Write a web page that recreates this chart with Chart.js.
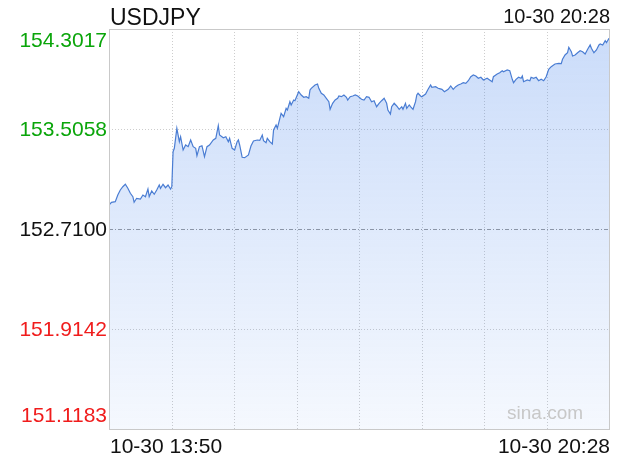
<!DOCTYPE html>
<html><head><meta charset="utf-8">
<script src="https://cdn.jsdelivr.net/npm/chart.js@4.4.1/dist/chart.umd.min.js"></script>
<style>html,body{margin:0;padding:0;background:#fff;}canvas{display:block;}</style>
</head><body>
<canvas id="c" width="620" height="460"></canvas>
<script>
const symbol = 'USDJPY';
const stampLabel = '10-30 20:28';
const xAxisLabels = ['10-30 13:50', '10-30 20:28'];
const sessionMinutes = 398; // 13:50 -> 20:28
const prevClose = 152.7100;
const yTickValues = [154.3017, 153.5058, 152.7100, 151.9142, 151.1183];
const watermark = 'sina.com';

// minutes after 13:50
const minutes = [
  0,2,5,7,9,11,13,15,17,19,
  20,22,25,27,29,31,32,34,36,38,
  40,41,43,45,47,49,50,51,52,53,
  54,56,57,59,61,63,65,67,69,70,
  72,74,76,78,80,83,85,87,88,91,
  93,95,96,98,100,102,103,104,106,108,
  111,113,115,118,120,122,123,125,126,128,
  130,131,133,134,136,137,139,141,142,144,
  145,147,148,151,153,155,157,159,160,161,
  164,166,167,169,171,173,175,176,178,180,
  182,183,185,187,189,190,192,194,196,198,
  201,203,205,207,209,211,213,215,217,219,
  221,222,224,225,227,229,231,233,234,236,
  237,239,240,242,244,245,246,248,249,252,
  254,256,257,260,262,263,265,267,270,272,
  274,276,278,280,282,284,286,288,290,292,
  294,296,298,301,303,305,306,309,311,313,
  314,317,319,321,322,324,326,328,329,330,
  333,335,336,338,340,342,344,346,348,350,
  352,355,358,360,361,363,365,366,368,369,
  371,373,375,377,379,381,383,384,386,388,
  390,391,393,395,396,398
];
const prices = [
  152.9010,152.9225,152.9273,152.9806,153.0204,153.0466,153.0658,153.0339,152.9941,152.9671,
  152.9225,152.9543,152.9488,152.9806,152.9671,153.0283,152.9671,153.0124,152.9862,153.0204,
  153.0602,153.0339,153.0658,153.0387,153.0602,153.0283,153.0466,153.3252,153.3523,153.4318,
  153.5114,153.4048,153.4446,153.3387,153.3785,153.3650,153.4183,153.3650,153.3523,153.2934,
  153.3650,153.3729,153.2854,153.3650,153.3785,153.4183,153.4318,153.5321,153.4581,153.4366,
  153.4446,153.4048,153.4318,153.3523,153.3387,153.4048,153.4183,153.3785,153.2806,153.2780,
  153.2989,153.3706,153.4103,153.4183,153.4150,153.4581,153.4127,153.3968,153.4318,153.4048,
  153.3865,153.4979,153.5377,153.5114,153.5910,153.6308,153.6037,153.6706,153.6571,153.7231,
  153.6969,153.7366,153.7311,153.8027,153.7764,153.7581,153.7629,153.7502,153.8162,153.8298,
  153.8560,153.8640,153.8298,153.7900,153.7764,153.7502,153.7231,153.6626,153.7104,153.7366,
  153.7502,153.7685,153.7629,153.7764,153.7581,153.7366,153.7629,153.7685,153.7764,153.7685,
  153.7422,153.7366,153.7629,153.7581,153.7231,153.7311,153.6833,153.7104,153.7311,153.7502,
  153.7104,153.6571,153.6252,153.6833,153.7104,153.6889,153.6626,153.6833,153.6626,153.7104,
  153.6706,153.6969,153.6833,153.6626,153.7231,153.7764,153.7900,153.7685,153.7629,153.7844,
  153.8218,153.8560,153.8377,153.8425,153.8298,153.8270,153.8218,153.8027,153.8218,153.8481,
  153.8218,153.8425,153.8560,153.8640,153.8743,153.8695,153.8902,153.9221,153.9356,153.9276,
  153.9093,153.9173,153.8958,153.9093,153.8958,153.8823,153.9221,153.9436,153.9539,153.9698,
  153.9618,153.9754,153.9698,153.9014,153.8743,153.9014,153.9173,153.9093,153.9276,153.8823,
  153.8958,153.8902,153.9173,153.9093,153.9173,153.8902,153.9014,153.8902,153.9221,153.9810,
  154.0017,154.0232,154.0287,154.0260,154.0606,154.0948,154.1131,154.1561,154.1210,154.0868,
  154.0948,154.1131,154.1290,154.1210,154.1027,154.1401,154.1744,154.1481,154.1131,154.1346,
  154.1744,154.1823,154.1744,154.2086,154.1927,154.2277
];

const FONT = '"Liberation Sans", Arial, Helvetica, sans-serif';
const GREEN = '#0aa50a', RED = '#f01c1c', BLACK = '#111111';

const overlay = {
  id: 'overlay',
  beforeDatasetsDraw(chart) {
    const {ctx, chartArea: a, scales: {x, y}} = chart;
    ctx.save();
    ctx.lineWidth = 1;
    ctx.strokeStyle = '#cdcdcd';
    ctx.setLineDash([1, 2]);
    for (let k = 1; k < 8; k++) {
      const px = Math.round(x.getPixelForValue(sessionMinutes * k / 8)) + 0.5;
      ctx.beginPath(); ctx.moveTo(px, a.top); ctx.lineTo(px, a.bottom); ctx.stroke();
    }
    yTickValues.slice(1, -1).forEach(v => {
      const py = Math.round(y.getPixelForValue(v)) + 0.5;
      if (v === prevClose) { ctx.strokeStyle = '#9a9a9a'; ctx.setLineDash([4, 2, 1, 2]); }
      else { ctx.strokeStyle = '#cdcdcd'; ctx.setLineDash([1, 2]); }
      ctx.beginPath(); ctx.moveTo(a.left, py); ctx.lineTo(a.right, py); ctx.stroke();
    });
    ctx.restore();
  },
  afterDatasetsDraw(chart) {
    const {ctx, chartArea: a, scales: {x, y}} = chart;
    ctx.save();
    // watermark
    ctx.font = '19px ' + FONT;
    ctx.fillStyle = '#c8c8c8';
    ctx.textAlign = 'left'; ctx.textBaseline = 'alphabetic';
    ctx.fillText(watermark, a.right - 102, a.bottom - 10);
    // border
    ctx.strokeStyle = '#c9c9c9'; ctx.lineWidth = 1; ctx.setLineDash([]);
    ctx.strokeRect(a.left + 0.5, a.top + 0.5, a.right - a.left, a.bottom - a.top);
    // title + stamp
    ctx.fillStyle = BLACK;
    ctx.font = '23px ' + FONT; ctx.textAlign = 'left';
    ctx.fillText(symbol, a.left + 1, 25);
    ctx.font = '20px ' + FONT; ctx.textAlign = 'right';
    ctx.fillText(stampLabel, a.right + 1, 23);
    // y labels
    ctx.font = '21px ' + FONT; ctx.textAlign = 'right';
    yTickValues.forEach((v, i) => {
      let py = y.getPixelForValue(v) + 7;
      if (i === 0) py = a.top + 17.5;
      if (i === yTickValues.length - 1) py = a.bottom - 7.5;
      ctx.fillStyle = v > prevClose ? GREEN : (v < prevClose ? RED : BLACK);
      ctx.fillText(v.toFixed(4), a.left - 2, py);
    });
    // x labels
    ctx.fillStyle = BLACK;
    ctx.textAlign = 'left';
    ctx.fillText(xAxisLabels[0], x.getPixelForValue(0) + 1, a.bottom + 24);
    ctx.textAlign = 'right';
    ctx.fillText(xAxisLabels[1], x.getPixelForValue(sessionMinutes) + 1, a.bottom + 24);
    ctx.restore();
  }
};

new Chart(document.getElementById('c'), {
  type: 'line',
  data: {
    datasets: [{
      data: minutes.map((m, i) => ({x: m, y: prices[i]})),
      borderColor: '#4a7dd3',
      borderWidth: 1.2,
      pointRadius: 0,
      tension: 0,
      fill: 'start',
      backgroundColor(ctx) {
        const a = ctx.chart.chartArea;
        if (!a) return 'rgba(60,125,235,0.15)';
        const g = ctx.chart.ctx.createLinearGradient(0, a.top, 0, a.bottom);
        g.addColorStop(0, 'rgba(60,125,235,0.27)');
        g.addColorStop(1, 'rgba(60,125,235,0.05)');
        return g;
      }
    }]
  },
  options: {
    responsive: false,
    animation: false,
    events: [],
    layout: {padding: {left: 109, right: 11, top: 29, bottom: 31}},
    plugins: {legend: {display: false}, tooltip: {enabled: false}, title: {display: false}},
    scales: {
      x: {type: 'linear', min: 0, max: sessionMinutes, display: false},
      y: {type: 'linear', min: yTickValues[yTickValues.length - 1], max: yTickValues[0], display: false}
    }
  },
  plugins: [overlay]
});
</script>
</body></html>
